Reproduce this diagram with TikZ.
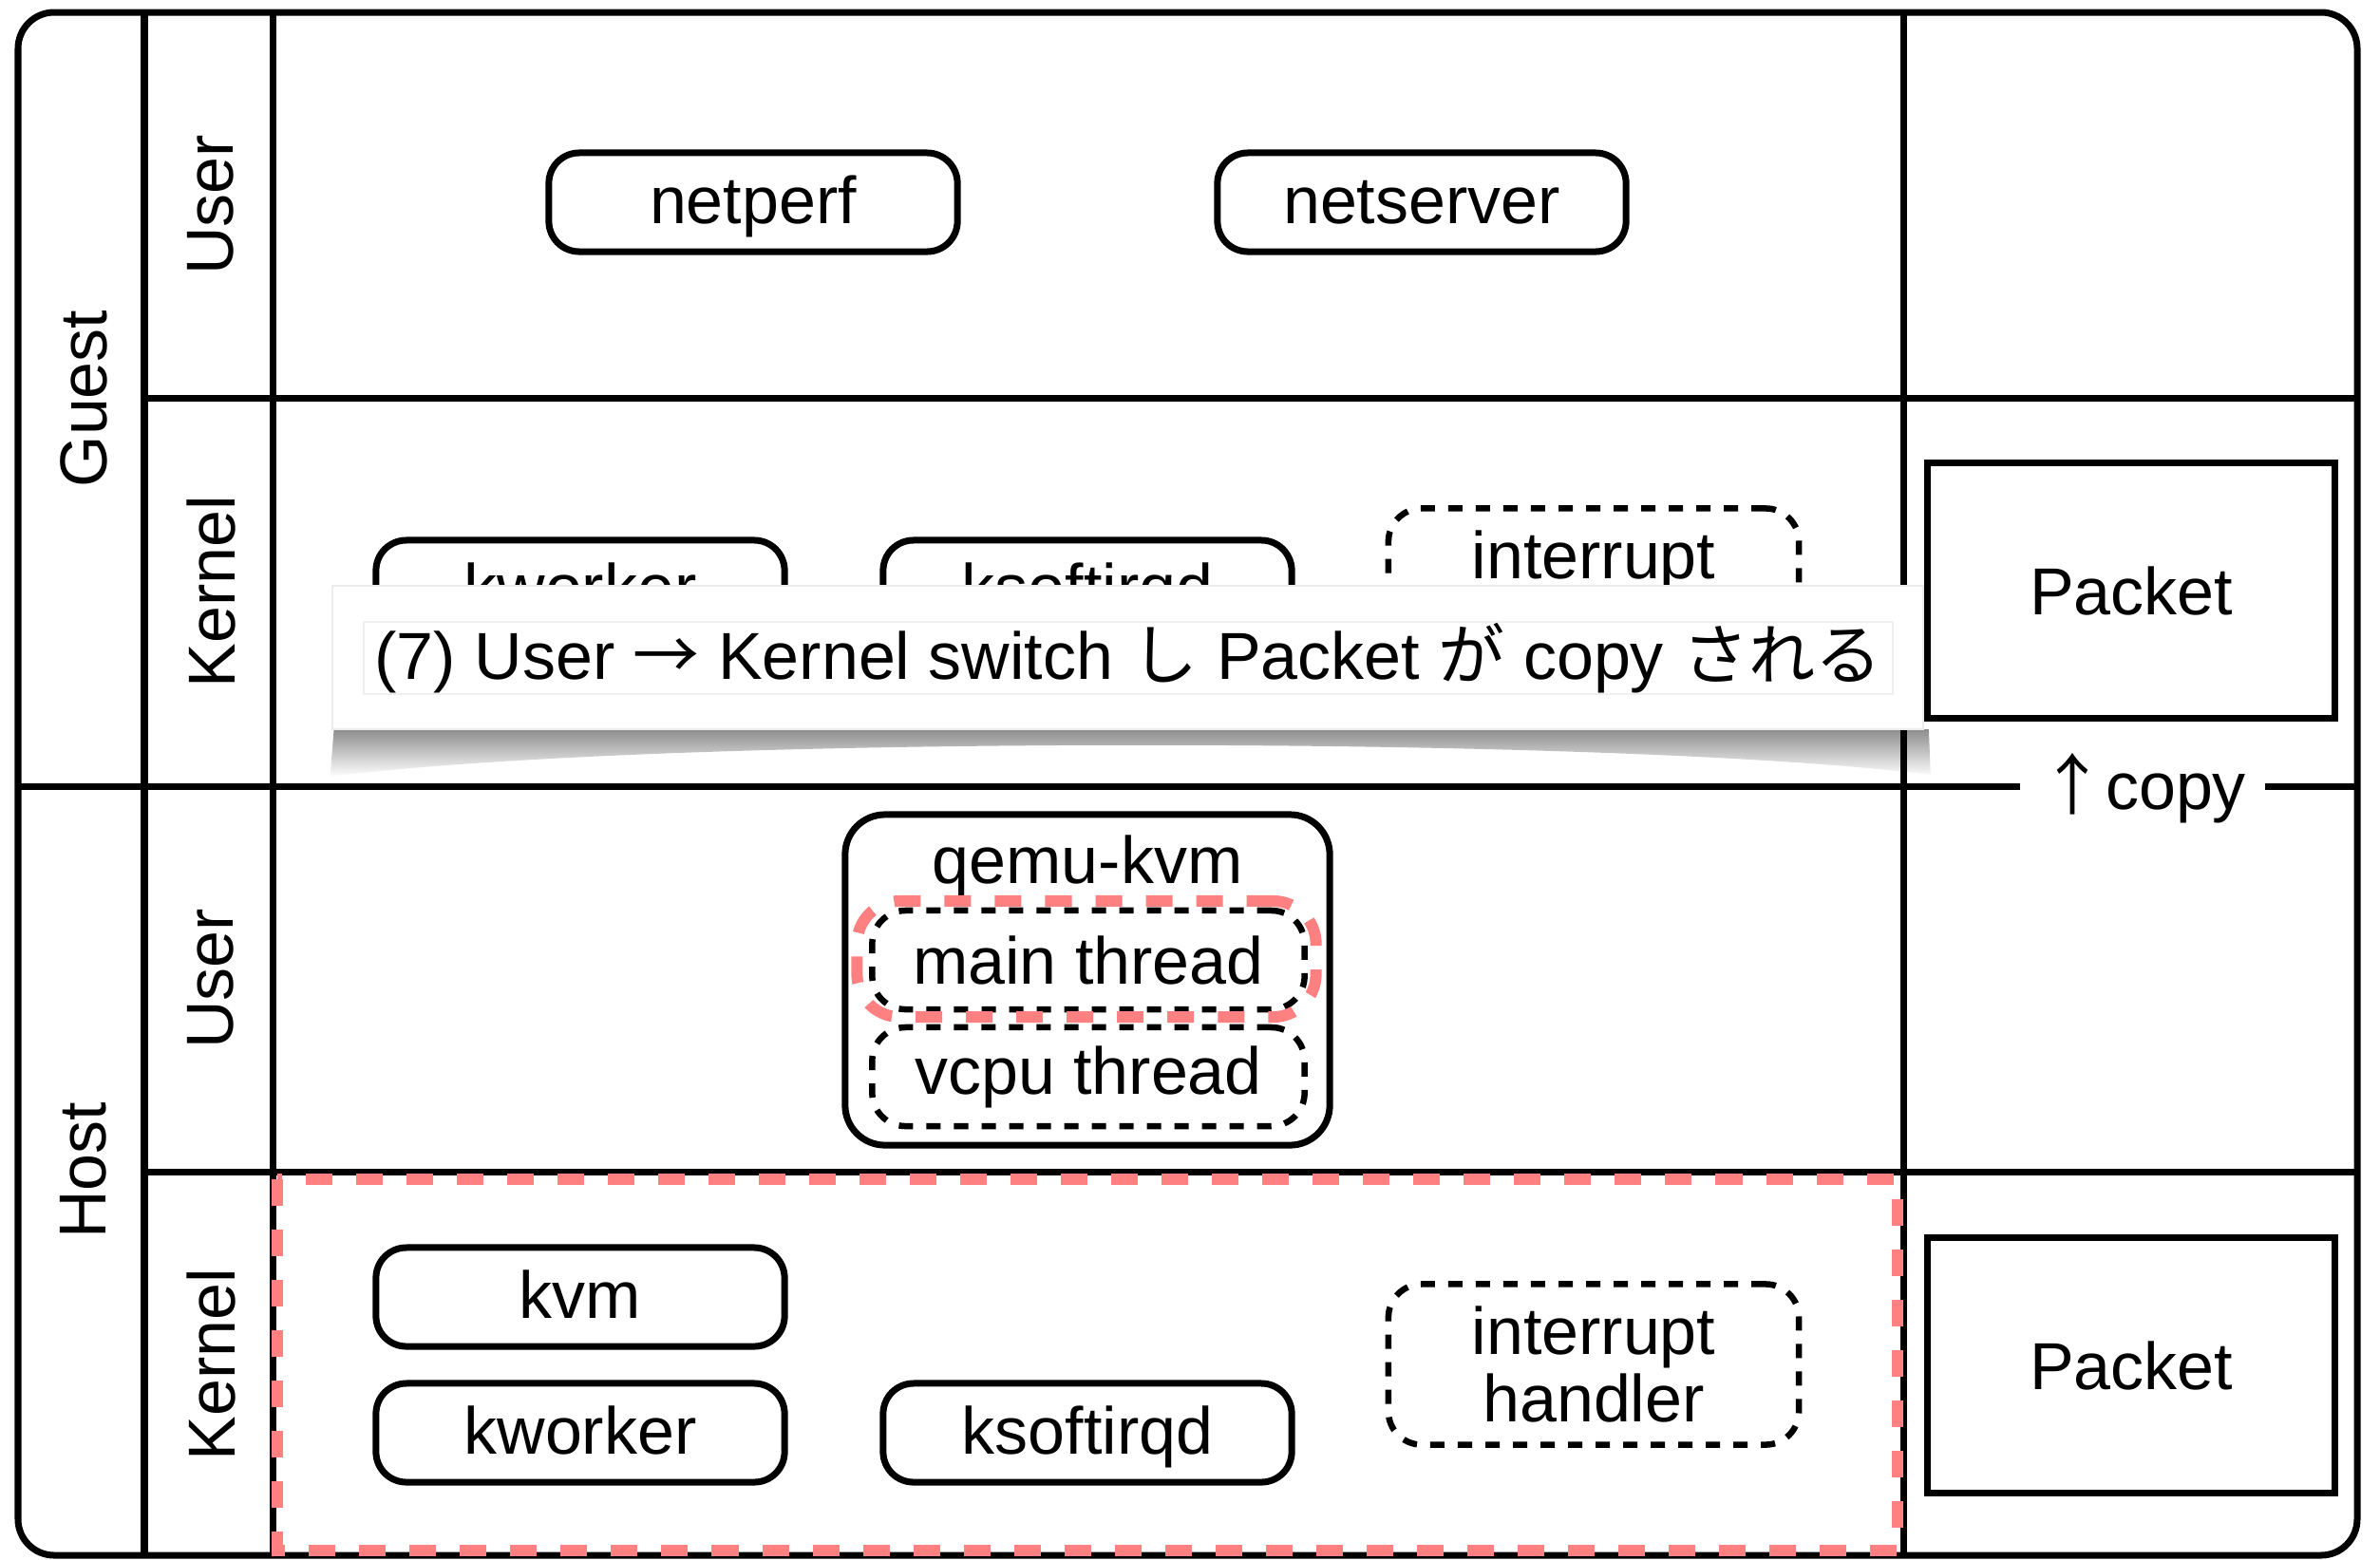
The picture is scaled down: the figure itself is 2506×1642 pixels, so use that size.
\documentclass[tikz,border=0pt]{standalone}
\usepackage{fontspec}
\setmainfont{Liberation Sans}
\newfontfamily\cjk{Noto Sans CJK JP}
\usetikzlibrary{fadings}
\definecolor{redline}{RGB}{255,128,128}
\tikzfading[name=shfade, top color=transparent!55, bottom color=transparent!100]
\begin{document}
\begin{tikzpicture}[x=0.01cm,y=-0.01cm,
  every node/.style={font=\fontsize{19.9}{23.5}\selectfont, inner sep=0pt},
  grid/.style={line width=0.07cm},
  pill/.style={draw, line width=0.07cm, rounded corners=0.32cm, fill=white, minimum width=4.3cm, minimum height=1.04cm, text height=17pt, text depth=4pt},
  dpill/.style={draw, line width=0.065cm, rounded corners=0.35cm, dash pattern=on 0.15cm off 0.14cm, align=center},
  redbox/.style={draw=redline, line width=0.12cm, dash pattern=on 0.28cm off 0.25cm},
  lbl/.style={rotate=90},
  pkt/.style={draw, line width=0.07cm, minimum width=4.29cm, minimum height=2.68cm},
]
\useasboundingbox (0,0) rectangle (2506,1642);
% frame and grid
\draw[grid, rounded corners=0.38cm] (19,13) rectangle (2482,1638);
\draw[grid] (152,13) -- (152,1638);
\draw[grid] (287,13) -- (287,1638);
\draw[grid] (2004,13) -- (2004,1638);
\draw[grid] (152,419) -- (2482,419);
\draw[grid] (19,828) -- (2482,828);
\draw[grid] (152,1234) -- (2482,1234);
\node[fill=white, inner xsep=0.2cm, inner ysep=0.05cm] (copylbl) at (2256,830) {{\cjk ↑}copy};

% row labels
\node[lbl] (guest) at (88,420) {Guest};
\node[lbl] (host) at (88,1233) {Host};
\node[lbl] (guser) at (222,216) {User};
\node[lbl] (gkern) at (222,623) {Kernel};
\node[lbl] (huser) at (222,1031) {User};
\node[lbl] (hkern) at (222,1437) {Kernel};

% host kernel highlight
\draw[redbox] (292,1242) rectangle (1998,1633);

% guest user
\node[pill] (netperf) at (793,213) {netperf};
\node[pill] (netserver) at (1497,213) {netserver};

% guest kernel
\node[pill] (gkworker) at (611,621) {kworker};
\node[pill] (gksoft) at (1145,621) {ksoftirqd};
\node[dpill, minimum width=4.32cm, minimum height=1.69cm] (gint) at (1678,620) {interrupt\\[-0.12cm]handler};
\node[pkt] (gpacket) at (2244,622) {Packet};

% host user
\node[draw, line width=0.07cm, rounded corners=0.42cm, minimum width=5.1cm, minimum height=3.48cm] (qemu) at (1145,1032) {};
\node (qemulbl) at (1145,912) {qemu-kvm};
\node[dpill, minimum width=4.55cm, minimum height=1.04cm] (mainth) at (1146,1011) {main thread};
\node[dpill, minimum width=4.55cm, minimum height=1.04cm] (vcputh) at (1146,1134) {vcpu thread};
\node[redbox, rounded corners=0.45cm, minimum width=4.83cm, minimum height=1.22cm] (mainred) at (1144,1010) {};

% host kernel
\node[pill] (kvm) at (611,1366) {kvm};
\node[pill] (hkworker) at (611,1509) {kworker};
\node[pill] (hksoft) at (1145,1509) {ksoftirqd};
\node[dpill, minimum width=4.32cm, minimum height=1.69cm] (hint) at (1678,1437) {interrupt\\[-0.12cm]handler};
\node[pkt] (hpacket) at (2244,1438) {Packet};

% popup with curled shadow
\fill[black, path fading=shfade] (352,768) -- (2032,768) -- (2034,816) .. controls (1700,774) and (690,774) .. (348,818) -- cycle;
\node[draw=gray!15, line width=0.02cm, fill=white, minimum width=16.74cm, minimum height=1.51cm] (popup) at (1187,692.5) {};
\node[draw=gray!12, line width=0.02cm, fill=white, minimum width=16.1cm, minimum height=0.76cm] (caption) at (1188,693)
  {(7) User {\cjk →} Kernel switch {\cjk し} Packet {\cjk が} copy {\cjk される}};
\end{tikzpicture}
\end{document}
